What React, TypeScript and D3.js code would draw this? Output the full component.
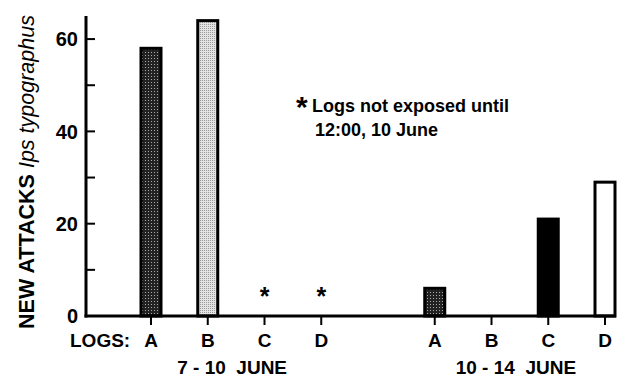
import { useEffect, useRef } from 'react'
import * as d3 from 'd3'

const periods = ['7 - 10  JUNE', '10 - 14  JUNE']
const logs = ['A', 'B', 'C', 'D']
// null = logs not yet exposed (marked with *)
const attacksJune7to10: (number | null)[] = [58, 64, null, null]
const attacksJune10to14: (number | null)[] = [6, 0, 21, 29]
const yTicks = [0, 20, 40, 60]
const yMinorTicks = [10, 30, 50]

const fills = ['url(#dark-dots)', 'url(#light-dots)', '#000', '#fff']

export default function App() {
  const svgRef = useRef<SVGSVGElement>(null)
  const width = 619
  const height = 380

  useEffect(() => {
    if (!svgRef.current) return
    const svg = d3.select(svgRef.current)
    svg.selectAll('*').remove()

    const font = '"Liberation Sans", Arial, Helvetica, sans-serif'
    const left = 86
    const right = 616
    const top = 16
    const bottom = 316

    // Patterns
    const defs = svg.append('defs')
    const dark = defs
      .append('pattern')
      .attr('id', 'dark-dots')
      .attr('width', 3)
      .attr('height', 3)
      .attr('patternUnits', 'userSpaceOnUse')
    dark.append('rect').attr('width', 3).attr('height', 3).attr('fill', '#222')
    dark.append('rect').attr('x', 1).attr('y', 1).attr('width', 1).attr('height', 1).attr('fill', '#aaa')
    const light = defs
      .append('pattern')
      .attr('id', 'light-dots')
      .attr('width', 2)
      .attr('height', 2)
      .attr('patternUnits', 'userSpaceOnUse')
    light.append('rect').attr('width', 2).attr('height', 2).attr('fill', '#e4e4e4')
    light.append('rect').attr('width', 1).attr('height', 1).attr('fill', '#999')

    const slots = [
      ...logs.map((l) => `0-${l}`),
      'gap',
      ...logs.map((l) => `1-${l}`),
    ]
    const x = d3.scalePoint<string>().domain(slots).range([151, 605])
    const y = d3.scaleLinear().domain([0, 65]).range([bottom, top])

    const rows = [
      ...attacksJune7to10.map((v, i) => ({ key: `0-${logs[i]}`, log: logs[i], v, i })),
      ...attacksJune10to14.map((v, i) => ({ key: `1-${logs[i]}`, log: logs[i], v, i })),
    ]
    const barW = 20

    // Bars
    svg
      .append('g')
      .selectAll('rect')
      .data(rows.filter((d) => d.v !== null && d.v > 0))
      .enter()
      .append('rect')
      .attr('x', (d) => (x(d.key) || 0) - barW / 2)
      .attr('y', (d) => y(d.v as number))
      .attr('width', barW)
      .attr('height', (d) => bottom - y(d.v as number))
      .attr('fill', (d) => fills[d.i])
      .attr('stroke', '#000')
      .attr('stroke-width', 3)

    // Asterisks for unexposed logs
    svg
      .append('g')
      .selectAll('text')
      .data(rows.filter((d) => d.v === null))
      .enter()
      .append('text')
      .attr('x', (d) => x(d.key) || 0)
      .attr('y', y(0) - 11)
      .attr('text-anchor', 'middle')
      .attr('font-family', font)
      .attr('font-weight', 'bold')
      .attr('font-size', 25)
      .text('*')

    // Y axis
    svg
      .append('line')
      .attr('x1', left)
      .attr('x2', left)
      .attr('y1', top)
      .attr('y2', bottom + 1.5)
      .attr('stroke', '#000')
      .attr('stroke-width', 3)
    svg
      .append('g')
      .selectAll('line')
      .data([...yTicks, ...yMinorTicks])
      .enter()
      .append('line')
      .attr('x1', left)
      .attr('x2', left + 9)
      .attr('y1', (d) => y(d))
      .attr('y2', (d) => y(d))
      .attr('stroke', '#000')
      .attr('stroke-width', 2)
    svg
      .append('g')
      .selectAll('text')
      .data(yTicks)
      .enter()
      .append('text')
      .attr('x', left - 8)
      .attr('y', (d) => y(d))
      .attr('dy', '0.36em')
      .attr('text-anchor', 'end')
      .attr('font-family', font)
      .attr('font-weight', 'bold')
      .attr('font-size', 20)
      .text((d) => d)

    // X axis
    svg
      .append('line')
      .attr('x1', left - 1.5)
      .attr('x2', right)
      .attr('y1', bottom)
      .attr('y2', bottom)
      .attr('stroke', '#000')
      .attr('stroke-width', 3)
    svg
      .append('g')
      .selectAll('line')
      .data(rows)
      .enter()
      .append('line')
      .attr('x1', (d) => x(d.key) || 0)
      .attr('x2', (d) => x(d.key) || 0)
      .attr('y1', bottom)
      .attr('y2', bottom + 9)
      .attr('stroke', '#000')
      .attr('stroke-width', 2)
    svg
      .append('g')
      .selectAll('text')
      .data(rows)
      .enter()
      .append('text')
      .attr('x', (d) => x(d.key) || 0)
      .attr('y', 347)
      .attr('text-anchor', 'middle')
      .attr('font-family', font)
      .attr('font-weight', 'bold')
      .attr('font-size', 19)
      .text((d) => d.log)
    svg
      .append('text')
      .attr('x', 70)
      .attr('y', 347)
      .attr('font-family', font)
      .attr('font-weight', 'bold')
      .attr('font-size', 19)
      .text('LOGS:')

    // Period labels
    svg
      .append('g')
      .selectAll('text')
      .data(periods)
      .enter()
      .append('text')
      .attr('x', (_, i) => ((x(`${i}-B`) || 0) + (x(`${i}-C`) || 0)) / 2 - 4)
      .attr('y', 374)
      .attr('text-anchor', 'middle')
      .attr('font-family', font)
      .attr('font-weight', 'bold')
      .attr('font-size', 19)
      .style('white-space', 'pre')
      .text((d) => d)

    // Y title
    const title = svg
      .append('text')
      .attr('transform', `translate(34,172) rotate(-90)`)
      .attr('text-anchor', 'middle')
      .attr('font-family', font)
      .attr('font-size', 21.5)
    title.append('tspan').attr('font-weight', 'bold').text('NEW ATTACKS ')
    title.append('tspan').attr('font-style', 'italic').text('Ips typographus')

    // Note
    svg
      .append('text')
      .attr('x', 296)
      .attr('y', 117)
      .attr('font-family', font)
      .attr('font-weight', 'bold')
      .attr('font-size', 30)
      .text('*')
    svg
      .append('text')
      .attr('x', 312)
      .attr('y', 112)
      .attr('font-family', font)
      .attr('font-weight', 'bold')
      .attr('font-size', 18)
      .text('Logs not exposed until')
    svg
      .append('text')
      .attr('x', 315)
      .attr('y', 136)
      .attr('font-family', font)
      .attr('font-weight', 'bold')
      .attr('font-size', 18)
      .text('12:00, 10 June')
  }, [])

  return (
    <svg
      ref={svgRef}
      width={width}
      height={height}
      style={{ position: 'absolute', left: 0, top: 0, background: '#fff' }}
    />
  )
}
